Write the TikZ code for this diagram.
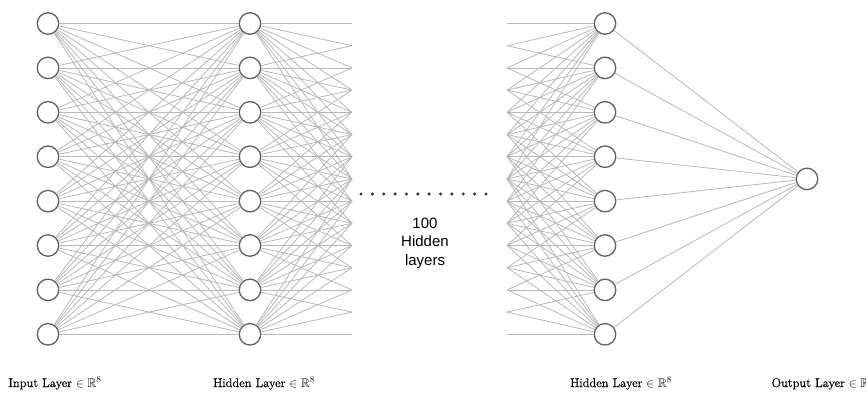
\documentclass[tikz,border=0pt]{standalone}
\usepackage{amssymb}
\usepackage{fontspec}
\newfontfamily\sansf{Liberation Sans}
\newfontfamily\labelfont[FakeBold=0.6]{Latin Modern Roman}
\begin{document}
\begin{tikzpicture}[x=1pt,y=-1pt,
  neuron/.style={circle,draw=black!62,line width=1.3pt,fill=white,minimum size=21.5pt,inner sep=0pt},
  conn/.style={draw=black!28,line width=0.8pt},
  lbl/.style={font=\labelfont\fontsize{12.5}{14}\selectfont,anchor=base},
  dotmark/.style={fill=black!80}]
\useasboundingbox (0,0) rectangle (866,392);
% nodes
\foreach \i in {1,...,8} {
  \node[neuron] (in\i) at (48,{23.5+44.4*(\i-1)}) {};
  \node[neuron] (ha\i) at (250,{23.5+44.4*(\i-1)}) {};
  \node[neuron] (hb\i) at (605,{23.5+44.4*(\i-1)}) {};
}
\node[neuron] (out) at (807,{23.5+44.4*3.5}) {};
% half-connection end points
\foreach \i in {1,...,8} {
  \foreach \j in {1,...,8} {
    \coordinate (ma\i\j) at (352,{23.5+44.4*((\i+\j)/2-1)});
    \coordinate (mb\i\j) at (507,{23.5+44.4*((\i+\j)/2-1)});
  }
}
% connectors
\foreach \i in {1,...,8} {
  \foreach \j in {1,...,8} {
    \draw[conn] (in\i) -- (ha\j);
    \draw[conn] (ha\i) -- (ma\i\j);
    \draw[conn] (mb\i\j) -- (hb\j);
  }
  \draw[conn] (hb\i) -- (out);
}
% dots
\foreach \k in {0,...,11} {
  \fill[dotmark] ({361+\k*125/11},194) circle (1.7);
}
\node[font=\sansf\fontsize{15}{18.5}\selectfont,align=center,anchor=north] (txt) at (425,214) {100\\Hidden\\layers};
% labels
\node[lbl] (l1) at (55,387) {Input Layer $\in\mathbb{R}^8$};
\node[lbl] (l2) at (264,387) {Hidden Layer $\in\mathbb{R}^8$};
\node[lbl] (l3) at (621,387) {Hidden Layer $\in\mathbb{R}^8$};
\node[lbl,anchor=base west] (l4) at (768,387) {Output Layer $\in\mathbb{R}^8$};
\end{tikzpicture}
\end{document}
